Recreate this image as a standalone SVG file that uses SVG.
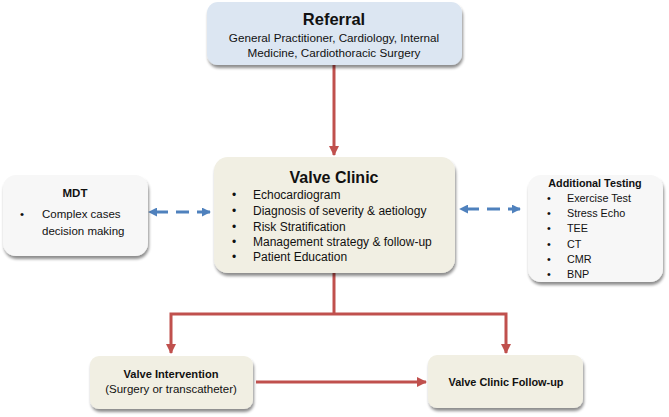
<svg xmlns="http://www.w3.org/2000/svg" width="669" height="417" viewBox="0 0 669 417">
<defs>
<filter id="sh" x="-10%" y="-10%" width="125%" height="130%">
<feGaussianBlur in="SourceAlpha" stdDeviation="1.6"/>
<feOffset dx="1" dy="2.5" result="b"/>
<feComponentTransfer><feFuncA type="linear" slope="0.45"/></feComponentTransfer>
<feMerge><feMergeNode/><feMergeNode in="SourceGraphic"/></feMerge>
</filter>
<marker id="ra" viewBox="0 0 10 10" refX="9" refY="5" markerWidth="3.4" markerHeight="3.4" markerUnits="strokeWidth" orient="auto">
<path d="M0,0 L10,5 L0,10 Z" fill="#c0504d"/>
</marker>
<marker id="ba" viewBox="0 0 10 10" refX="9" refY="5" markerWidth="3" markerHeight="3" markerUnits="strokeWidth" orient="auto-start-reverse">
<path d="M0,0 L10,5 L0,10 Z" fill="#4f81bd"/>
</marker>
</defs>
<style>
text{font-family:"Liberation Sans",Arial,sans-serif;fill:#111}
.b{font-weight:bold}
.box{filter:url(#sh)}
.red{stroke:#c0504d;stroke-width:3;fill:none}
.blue{stroke:#4f81bd;stroke-width:3;fill:none;stroke-dasharray:13 8}
</style>
<g id="connectors">
<line class="red" x1="334" y1="65" x2="334" y2="155" marker-end="url(#ra)"/>
<polyline class="red" points="334,273 334,314"/>
<polyline class="red" points="334,314 171,314 171,353" marker-end="url(#ra)"/>
<polyline class="red" points="334,314 506,314 506,353" marker-end="url(#ra)"/>
<line class="red" x1="256" y1="382" x2="426" y2="382" marker-end="url(#ra)"/>
<line class="blue" x1="149" y1="212" x2="210" y2="212" stroke-dashoffset="-6" marker-start="url(#ba)" marker-end="url(#ba)"/>
<line class="blue" x1="460" y1="209" x2="520" y2="209" stroke-dashoffset="-6" marker-start="url(#ba)" marker-end="url(#ba)"/>
</g>
<g id="referral">
<rect class="box" x="207" y="2" width="255" height="63" rx="11" fill="#dce6f2"/>
<text class="b" x="334" y="25" font-size="16.5" text-anchor="middle">Referral</text>
<text x="334" y="42" font-size="11.7" text-anchor="middle">General Practitioner, Cardiology, Internal</text>
<text x="334" y="57" font-size="11.7" text-anchor="middle">Medicine, Cardiothoracic Surgery</text>
</g>
<g id="valve-clinic">
<rect class="box" x="214" y="157" width="241" height="116" rx="14" fill="#f1efe3"/>
<text class="b" x="334" y="183" font-size="16" text-anchor="middle">Valve Clinic</text>
<g font-size="12">
<text x="232" y="199">•</text><text x="253" y="199">Echocardiogram</text>
<text x="232" y="215">•</text><text x="253" y="215">Diagnosis of severity &amp; aetiology</text>
<text x="232" y="231">•</text><text x="253" y="231">Risk Stratification</text>
<text x="232" y="246">•</text><text x="253" y="246">Management strategy &amp; follow-up</text>
<text x="232" y="261">•</text><text x="253" y="261">Patient Education</text>
</g>
</g>
<g id="mdt">
<rect class="box" x="3" y="175" width="145" height="81" rx="13" fill="#f7f7f7"/>
<text class="b" x="75" y="197" font-size="11.5" text-anchor="middle">MDT</text>
<text x="20" y="218" font-size="11.5">•</text>
<text x="42" y="218" font-size="11.5">Complex cases</text>
<text x="42" y="235" font-size="11.5">decision making</text>
</g>
<g id="additional-testing">
<rect class="box" x="528" y="175" width="135" height="107" rx="13" fill="#f7f7f7"/>
<text class="b" x="595" y="187" font-size="10.8" text-anchor="middle">Additional Testing</text>
<g font-size="10.8">
<text x="547" y="202">•</text><text x="567" y="202">Exercise Test</text>
<text x="547" y="217">•</text><text x="567" y="217">Stress Echo</text>
<text x="547" y="232">•</text><text x="567" y="232">TEE</text>
<text x="547" y="248">•</text><text x="567" y="248">CT</text>
<text x="547" y="263">•</text><text x="567" y="263">CMR</text>
<text x="547" y="278">•</text><text x="567" y="278">BNP</text>
</g>
</g>
<g id="valve-intervention">
<rect class="box" x="90" y="356" width="163" height="53" rx="9" fill="#f1efe3"/>
<text class="b" x="171" y="378" font-size="11.1" text-anchor="middle">Valve Intervention</text>
<text x="171" y="393" font-size="11.5" text-anchor="middle">(Surgery or transcatheter)</text>
</g>
<g id="valve-clinic-follow-up">
<rect class="box" x="428" y="355" width="155" height="53" rx="9" fill="#f1efe3"/>
<text class="b" x="506" y="386" font-size="10.9" text-anchor="middle">Valve Clinic Follow-up</text>
</g>
</svg>
